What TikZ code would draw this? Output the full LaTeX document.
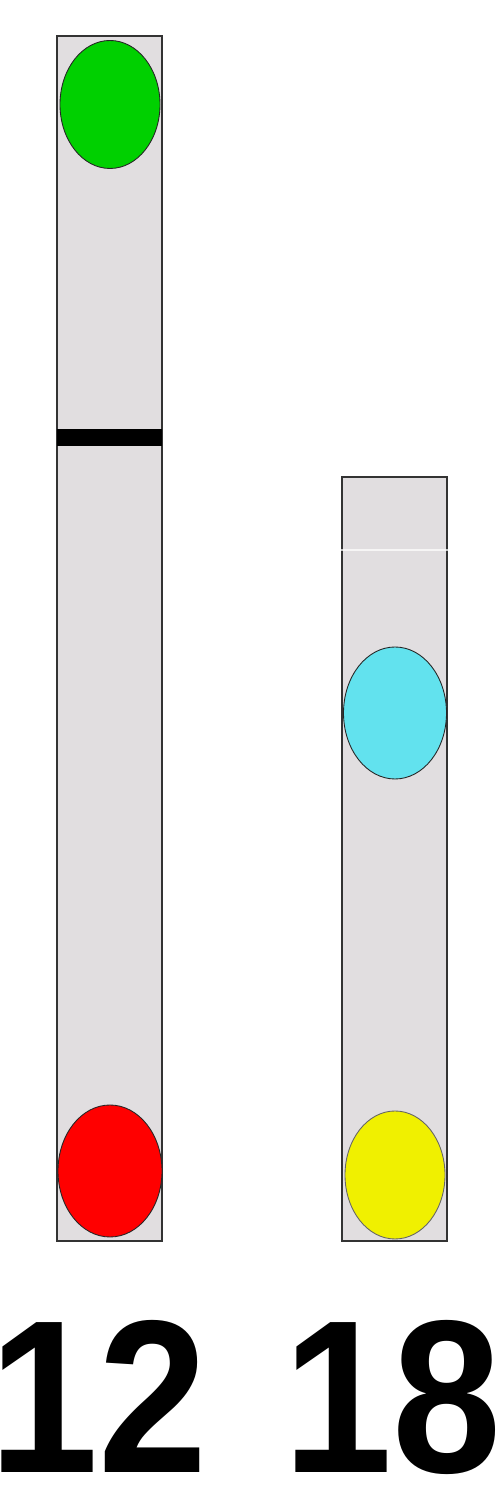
\documentclass[tikz,border=0pt]{standalone}
\usepackage{fontspec}
\setmainfont{Liberation Sans}
\usetikzlibrary{shapes.geometric}
\definecolor{chromgray}{HTML}{E1DEE0}
\definecolor{spotgreen}{HTML}{00D000}
\definecolor{spotred}{HTML}{FF0000}
\definecolor{spotcyan}{HTML}{62E2EE}
\definecolor{spotyellow}{HTML}{F0F000}
\begin{document}
\begin{tikzpicture}[
    chrom/.style={
        rectangle,
        draw=black!80,
        line width=0.8pt,
        fill=chromgray,
        minimum width=2.1cm,
        inner sep=0pt
    },
    band/.style={
        rectangle,
        fill=black,
        minimum width=2.1cm,
        minimum height=0.34cm,
        inner sep=0pt
    },
    spot/.style={
        ellipse,
        draw=black!85,
        line width=0.5pt,
        inner sep=0pt
    },
    label/.style={
        font=\fontsize{124}{124}\selectfont\bfseries,
        inner sep=0pt,
        anchor=base,
        xscale=0.9
    }
]

\useasboundingbox (0,0) rectangle (9.94,29.82);

% chromosome 12
\node[chrom, minimum height=24.1cm] (c12) at (2.19,17.05) {};
\node[band] (b12) at (2.19,21.07) {};
\node[spot, fill=spotgreen, minimum width=2.0cm, minimum height=2.56cm] (g12) at (2.2,27.73) {};
\node[spot, fill=spotred, minimum width=2.08cm, minimum height=2.64cm] (r12) at (2.2,6.4) {};

% chromosome 18
\node[chrom, minimum height=15.28cm] (c18) at (7.89,12.64) {};
\draw[white, opacity=0.7, line width=0.6pt] (c18.west |- 0,18.82) -- (c18.east |- 0,18.82);
\node[spot, fill=spotcyan, minimum width=2.06cm, minimum height=2.64cm] (cy18) at (7.9,15.56) {};
\node[spot, fill=spotyellow, draw=black!60, minimum width=2.0cm, minimum height=2.56cm] (y18) at (7.9,6.32) {};

% labels
\node[label] (l12) at (1.97,0.36) {12};
\node[label] (l18) at (7.86,0.36) {18};

\end{tikzpicture}
\end{document}
